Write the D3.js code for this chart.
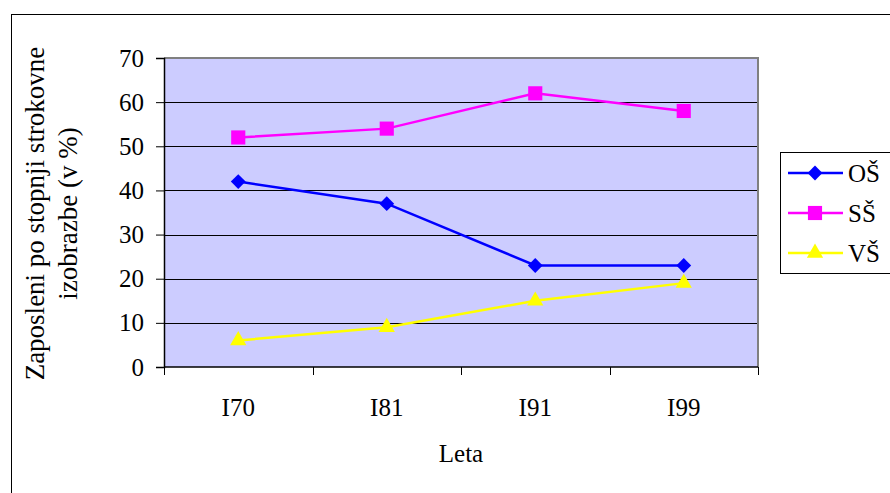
<!DOCTYPE html>
<html>
<head>
<meta charset="utf-8">
<script src="https://cdn.jsdelivr.net/npm/d3@7"></script>
<style>
  body { margin: 0; background: #fff; }
</style>
</head>
<body>
<div id="chart"></div>
<script>
var width = 890;
var height = 493;
var FONT = "'Liberation Serif', 'Times New Roman', 'DejaVu Serif', serif";

var categories = ["I70", "I81", "I91", "I99"];
var seriesNames = ["OŠ", "SŠ", "VŠ"];
var valuesOS = [42, 37, 23, 23];
var valuesSS = [52, 54, 62, 58];
var valuesVS = [6, 9, 15, 19];
var yTicks = [0, 10, 20, 30, 40, 50, 60, 70];

var series = [
  {name: seriesNames[0], values: valuesOS, color: "#0000FF", shape: d3.symbolSquare, size: 110, rot: 45},
  {name: seriesNames[1], values: valuesSS, color: "#FF00FF", shape: d3.symbolSquare, size: 200, rot: 0},
  {name: seriesNames[2], values: valuesVS, color: "#FFFF00", shape: d3.symbolTriangle, size: 115, rot: 0}
];

var plot = {left: 164, top: 58, right: 758, bottom: 367};

var svg = d3.select("#chart").append("svg")
  .attr("width", width)
  .attr("height", height)
  .style("font-family", FONT);

// outer chart frame
svg.append("rect")
  .attr("x", 11.5).attr("y", 14.5)
  .attr("width", 900).attr("height", 500)
  .attr("fill", "#fff").attr("stroke", "#000").attr("stroke-width", 1);

var x = d3.scaleBand().domain(categories).range([plot.left, plot.right]);
var y = d3.scaleLinear().domain([0, 70]).range([plot.bottom, plot.top]);

// plot background
svg.append("rect")
  .attr("x", plot.left).attr("y", plot.top)
  .attr("width", plot.right - plot.left).attr("height", plot.bottom - plot.top)
  .attr("fill", "#CCCCFF");

// gridlines
svg.append("g")
  .selectAll("line")
  .data(yTicks.slice(1))
  .enter().append("line")
  .attr("x1", plot.left).attr("x2", plot.right)
  .attr("y1", d => Math.round(y(d)) + 0.5).attr("y2", d => Math.round(y(d)) + 0.5)
  .attr("stroke", "#000").attr("stroke-width", 1);

// plot border (gray top/right)
svg.append("path")
  .attr("d", `M${plot.left},${plot.top}H${plot.right}V${plot.bottom}`)
  .attr("fill", "none").attr("stroke", "#808080").attr("stroke-width", 2);

// y axis
var yAxis = svg.append("g")
  .attr("transform", `translate(${plot.left},0)`)
  .call(d3.axisLeft(y).tickValues(yTicks).tickSize(8).tickPadding(12));
yAxis.attr("font-family", null);
yAxis.select(".domain").attr("stroke", "#000").attr("stroke-width", 1.5);
yAxis.selectAll(".tick line").attr("stroke", "#000");
yAxis.selectAll("text")
  .attr("font-size", 25)
  .attr("font-family", FONT)
  .attr("fill", "#000");

// x axis (ticks at category boundaries)
var xAxisG = svg.append("g");
xAxisG.append("line")
  .attr("x1", plot.left).attr("x2", plot.right)
  .attr("y1", plot.bottom).attr("y2", plot.bottom)
  .attr("stroke", "#000").attr("stroke-width", 1.5);
var bounds = categories.map(c => x(c)).concat([x(categories[categories.length - 1]) + x.bandwidth()]);
xAxisG.selectAll(".xt")
  .data(bounds)
  .enter().append("line")
  .attr("x1", d => Math.round(d) + 0.5).attr("x2", d => Math.round(d) + 0.5)
  .attr("y1", plot.bottom).attr("y2", plot.bottom + 8)
  .attr("stroke", "#000");
xAxisG.selectAll("text")
  .data(categories)
  .enter().append("text")
  .attr("x", d => x(d) + x.bandwidth() / 2)
  .attr("y", 416)
  .attr("text-anchor", "middle")
  .attr("font-size", 25)
  .attr("font-family", FONT)
  .text(d => d);

// axis titles
svg.append("text")
  .attr("x", 461).attr("y", 462)
  .attr("text-anchor", "middle")
  .attr("font-size", 25)
  .attr("font-family", FONT)
  .text("Leta");

var yTitle = svg.append("text")
  .attr("transform", `translate(0,${(plot.top + plot.bottom) / 2 + 1}) rotate(-90)`)
  .attr("text-anchor", "middle")
  .attr("font-size", 27)
  .attr("font-family", FONT);
yTitle.append("tspan").attr("x", 0).attr("y", 44).text("Zaposleni po stopnji strokovne");
yTitle.append("tspan").attr("x", 0).attr("y", 77).text("izobrazbe (v %)");

// lines and markers
var line = d3.line()
  .x((d, i) => x(categories[i]) + x.bandwidth() / 2)
  .y(d => y(d));

series.forEach(function(s) {
  svg.append("path")
    .datum(s.values)
    .attr("d", line)
    .attr("fill", "none")
    .attr("stroke", s.color)
    .attr("stroke-width", 2.5);

  svg.append("g")
    .selectAll("path")
    .data(s.values)
    .enter().append("path")
    .attr("d", d3.symbol().type(s.shape).size(s.size))
    .attr("transform", (d, i) => `translate(${x(categories[i]) + x.bandwidth() / 2},${y(d)}) rotate(${s.rot})`)
    .attr("fill", s.color);
});

// legend
var legend = svg.append("g");
legend.append("rect")
  .attr("x", 780.5).attr("y", 152.5)
  .attr("width", 120).attr("height", 121)
  .attr("fill", "#fff").attr("stroke", "#000").attr("stroke-width", 1);

var items = legend.selectAll(".item")
  .data(series)
  .enter().append("g")
  .attr("transform", (d, i) => `translate(0,${173 + i * 40})`);
items.append("line")
  .attr("x1", 788).attr("x2", 843)
  .attr("y1", 0).attr("y2", 0)
  .attr("stroke", d => d.color).attr("stroke-width", 2.5);
items.append("path")
  .attr("d", d => d3.symbol().type(d.shape).size(d.size)())
  .attr("transform", d => `translate(815,0) rotate(${d.rot})`)
  .attr("fill", d => d.color);
items.append("text")
  .attr("x", 848).attr("y", 9)
  .attr("font-size", 25)
  .attr("font-family", FONT)
  .text(d => d.name);
</script>
</body>
</html>
